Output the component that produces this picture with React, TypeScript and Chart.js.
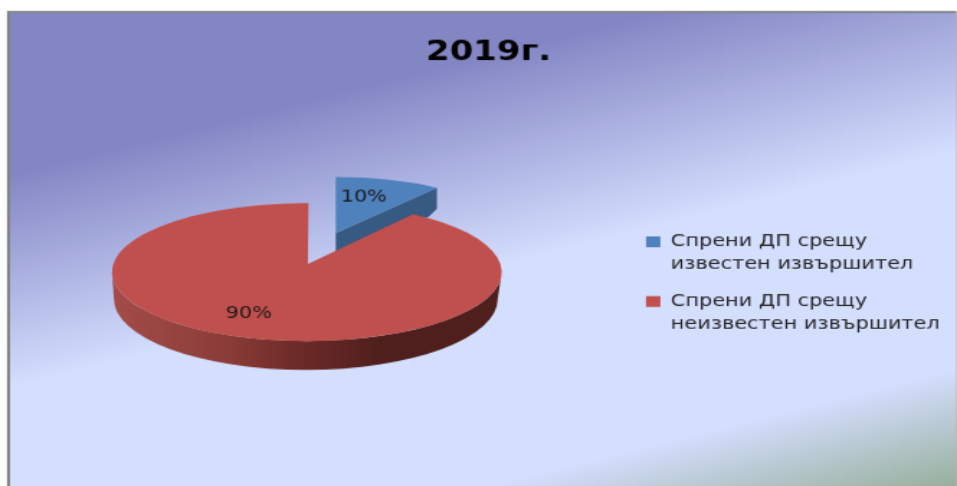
import React, { useEffect, useRef } from "react";
import { Chart, registerables } from "chart.js";

Chart.register(...registerables);

const categories = [
  ["Спрени ДП срещу", "известен извършител"],
  ["Спрени ДП срещу", "неизвестен извършител"],
];
const shares = [10, 90];
const faceColors = ["#4f81bd", "#c0504d"];
const titleText = "2019г.";

// The reference is a stretched raster: the canvas is drawn small and scaled up.
const SX = 1.44;
const SY = 1.2;
const CW = Math.round(957 / SX);
const CH = Math.round(486 / SY);

const blueFace = { vx: 336, vy: 233, cx: 336, cy: 233, rx: 172, ry: 56, depth: 21 };
const redFace = { vx: 308, vy: 264, cx: 307, cy: 272, rx: 195, ry: 69, trim: -0.052, endTrim: 0.008 };
const redRim = { cx: 306, cy: 299, rx: 192, ry: 71 };
const labelSpots = [{ x: 364, y: 197 }, { x: 249, y: 314 }];

const pie3d = {
  id: "pie3d",
  beforeDraw(chart: any) {
    const ctx = chart.ctx;
    ctx.save();
    ctx.scale(1 / SX, 1 / SY);
    ctx.fillStyle = "#ffffff";
    ctx.fillRect(0, 0, 957, 486);
    ctx.fillStyle = "#828282";
    ctx.fillRect(7, 11, 950, 475);
    const g = ctx.createLinearGradient(0, 0, 170.6, 682);
    g.addColorStop(0, "#8486c4");
    g.addColorStop(0.243, "#8486c4");
    g.addColorStop(0.538, "#d4defe");
    g.addColorStop(0.841, "#d4defe");
    g.addColorStop(1, "#98b09c");
    ctx.fillStyle = g;
    ctx.fillRect(10, 13, 947, 473);
    ctx.restore();
  },
  beforeDatasetDraw(chart: any) {
    const ctx = chart.ctx;
    const arcs = chart.getDatasetMeta(0).data;
    const blue = arcs[0];
    const red = arcs[1];
    ctx.save();
    ctx.scale(1 / SX, 1 / SY);

    // blue wall
    const b = blueFace;
    const bx = b.cx + b.rx * Math.cos(blue.endAngle);
    const by = b.cy + b.ry * Math.sin(blue.endAngle);
    ctx.beginPath();
    ctx.moveTo(b.vx, b.vy);
    ctx.lineTo(bx, by);
    ctx.lineTo(bx, by + b.depth);
    ctx.lineTo(bx - 8, by + b.depth + 8);
    ctx.lineTo(b.vx, b.vy + b.depth);
    ctx.closePath();
    ctx.fillStyle = "#375a82";
    ctx.fill();

    // blue face
    ctx.beginPath();
    ctx.moveTo(b.vx, b.vy);
    ctx.ellipse(b.cx, b.cy, b.rx, b.ry, 0, blue.startAngle, blue.endAngle);
    ctx.closePath();
    ctx.fillStyle = faceColors[0];
    ctx.fill();

    // red rim
    const r = redFace;
    const rim = redRim;
    const rg = ctx.createLinearGradient(112, 0, 502, 0);
    rg.addColorStop(0, "#a44c48");
    rg.addColorStop(0.3, "#8a3c38");
    rg.addColorStop(0.47, "#6e2b29");
    rg.addColorStop(0.7, "#4e1f1c");
    rg.addColorStop(1, "#4e1f1c");
    ctx.beginPath();
    ctx.ellipse(r.cx, r.cy, r.rx, r.ry, 0, 0, Math.PI);
    ctx.ellipse(rim.cx, rim.cy, rim.rx, rim.ry, 0, Math.PI, 0, true);
    ctx.closePath();
    ctx.fillStyle = rg;
    ctx.fill();

    // red face
    ctx.beginPath();
    ctx.moveTo(r.vx, r.vy);
    ctx.ellipse(r.cx, r.cy, r.rx, r.ry, 0, red.startAngle + r.trim, red.endAngle + r.endTrim);
    ctx.closePath();
    ctx.fillStyle = faceColors[1];
    ctx.fill();

    // value labels
    ctx.fillStyle = "#1a1a1a";
    ctx.textAlign = "center";
    ctx.textBaseline = "middle";
    labelSpots.forEach((p, i) => {
      ctx.save();
      ctx.translate(p.x, p.y);
      ctx.scale(SX, SY);
      ctx.font = "14.5px 'DejaVu Sans'";
      ctx.fillText(`${shares[i]}%`, 0, 0);
      ctx.restore();
    });
    ctx.restore();
    return false;
  },
};

export default function App() {
  const ref = useRef<HTMLCanvasElement>(null);
  useEffect(() => {
    const chart = new Chart(ref.current!, {
      type: "pie",
      data: {
        labels: categories as any,
        datasets: [{ data: shares, backgroundColor: faceColors, borderWidth: 0 }],
      },
      options: {
        animation: false,
        responsive: false,
        layout: { padding: { left: 16, right: 2, top: 0, bottom: 0 } },
        plugins: {
          tooltip: { enabled: false },
          title: {
            display: true,
            text: titleText,
            color: "#000000",
            font: { family: "'DejaVu Sans'", size: 23.6, weight: "bold" },
            padding: { top: 30, bottom: 13 },
          },
          legend: {
            position: "right",
            align: "center",
            fullSize: false,
            labels: {
              color: "#262626",
              font: { family: "'DejaVu Sans'", size: 14.5, lineHeight: 1.32 },
              boxWidth: 10,
              boxHeight: 9,
              padding: 11.5,
            },
          },
        },
      },
      plugins: [pie3d],
    } as any);
    return () => chart.destroy();
  }, []);
  return (
    <div style={{ position: "fixed", left: 0, top: 0, width: 957, height: 486, overflow: "hidden", background: "#fff" }}>
      <canvas
        ref={ref}
        width={CW}
        height={CH}
        style={{ display: "block", transformOrigin: "0 0", transform: `scale(${957 / CW}, ${486 / CH})`, filter: "blur(0.35px)" }}
      />
    </div>
  );
}
